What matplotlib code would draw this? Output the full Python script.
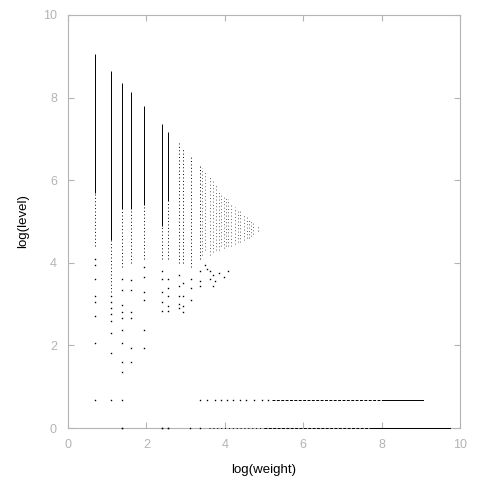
import matplotlib
matplotlib.use("Agg")
from matplotlib import pyplot as plt

# in log units
# left columns: x, top, end of solid part, end of dotted part
col_x = [0.69, 1.10, 1.39, 1.61, 1.95, 2.39, 2.56, 2.84, 2.94, 3.13, 3.37]
col_top = [9.06, 8.64, 8.36, 8.13, 7.80, 7.35, 7.17, 6.91, 6.77, 6.59, 6.38]
col_solid = [5.70, 4.55, 5.30, 5.30, 5.40, 4.90, 5.50, 6.91, 6.77, 6.59, 6.38]
col_dotted = [4.40, 3.30, 3.90, 4.00, 4.10, 4.10, 4.10, 4.00, 4.00, 3.90, 4.10]

# triangle columns: x, top, bottom
tri_x = [3.43, 3.50, 3.61, 3.71, 3.78, 3.85, 3.91, 3.97, 4.03, 4.08, 4.17,
         4.26, 4.33, 4.39, 4.49, 4.56, 4.62, 4.68, 4.72, 4.84]
tri_top = [6.30, 6.20, 6.13, 6.03, 5.88, 5.76, 5.70, 5.64, 5.60, 5.54, 5.45,
           5.35, 5.30, 5.28, 5.18, 5.12, 5.08, 5.03, 5.00, 4.88]
tri_bottom = [4.20, 4.30, 4.20, 4.25, 4.30, 4.30, 4.40, 4.35, 4.40, 4.40, 4.40,
              4.45, 4.50, 4.50, 4.55, 4.60, 4.60, 4.65, 4.70, 4.78]

# single points
dot_x = ([0.69] * 8 + [1.10] * 8 + [1.39] * 11 + [1.61] * 6 + [1.95] * 6
         + [2.39] * 6 + [2.56] * 6 + [2.84] * 5 + [2.94] * 4 + [3.13] * 3
         + [3.37] * 3
         + [3.62, 3.62, 3.71, 3.76, 3.85, 3.97, 4.08, 3.71, 3.50, 3.55]
         + [3.37, 3.55, 3.75, 3.90, 4.05, 4.20, 4.40, 4.55, 4.75, 4.95, 5.10]
         + [1.39, 2.39, 2.56, 3.11, 3.37])
dot_y = ([4.10, 3.95, 3.60, 3.20, 3.05, 2.70, 2.06, 0.69]
         + [3.20, 3.05, 2.90, 2.75, 2.60, 2.30, 1.82, 0.69]
         + [3.60, 3.35, 2.98, 2.82, 2.66, 2.37, 2.07, 1.61, 1.36, 0.69, 0.0]
         + [3.58, 3.34, 2.82, 2.66, 1.94, 1.61]
         + [3.90, 3.66, 3.30, 3.10, 2.37, 1.94]
         + [3.80, 3.60, 3.30, 3.05, 2.83, 0.0]
         + [3.60, 3.40, 3.20, 2.95, 2.83, 0.0]
         + [3.70, 3.45, 3.20, 3.00, 2.90]
         + [3.50, 3.20, 2.95, 2.80]
         + [3.60, 3.40, 3.10]
         + [3.80, 3.55, 3.45]
         + [3.80, 3.60, 3.70, 3.55, 3.75, 3.65, 3.80, 3.45, 3.95, 3.85]
         + [0.69] * 11
         + [0.0] * 5)

# horizontal runs: y, x start, x end, style
row_y = [0.69, 0.69, 0.0, 0.0, 0.0]
row_x0 = [5.20, 8.00, 3.60, 5.00, 7.70]
row_x1 = [8.00, 9.06, 5.00, 7.70, 9.75]
row_style = [(0, (3, 1.5)), '-', (0, (1, 3)), (0, (3, 1.5)), '-']

grey = '#b4b4b4'
fig = plt.figure(figsize=(4.8, 4.8), dpi=100)
ax = fig.add_axes([0.1417, 0.1083, 0.8166, 0.8605])

lw = 0.7
ax.vlines(col_x, col_solid, col_top, colors='black', linewidth=lw)
ax.vlines(col_x, col_dotted, col_solid, colors='black', linewidth=lw,
          linestyles=[(0, (1, 2.5))])
ax.vlines(tri_x, tri_bottom, tri_top, colors='#333333', linewidth=0.6,
          linestyles=[(0, (1, 3))])
ax.plot(dot_x, dot_y, linestyle='none', marker='s', markersize=1.0,
        color='black', markeredgewidth=0, clip_on=False, zorder=4)
for y, x0, x1, st in zip(row_y, row_x0, row_x1, row_style):
    ax.plot([x0, x1], [y, y], color='black', linewidth=lw, linestyle=st,
            clip_on=False, zorder=4)

ax.set_xlim(0, 10)
ax.set_ylim(0, 10)
ax.set_xticks([0, 2, 4, 6, 8, 10])
ax.set_yticks([0, 2, 4, 6, 8, 10])
for s in ax.spines.values():
    s.set_color(grey)
    s.set_linewidth(0.8)
ax.tick_params(direction='in', top=True, right=True, color=grey, length=4,
               labelcolor=grey, labelsize=9, pad=8)
for lab in ax.get_xticklabels() + ax.get_yticklabels():
    lab.set_family('Liberation Sans')

ax.set_xlabel('log(weight)', family='Liberation Sans', fontsize=9.5, labelpad=9)
ax.set_ylabel('log(level)', family='Liberation Sans', fontsize=9.5, labelpad=10)

fig.savefig('out.png', dpi=100)
